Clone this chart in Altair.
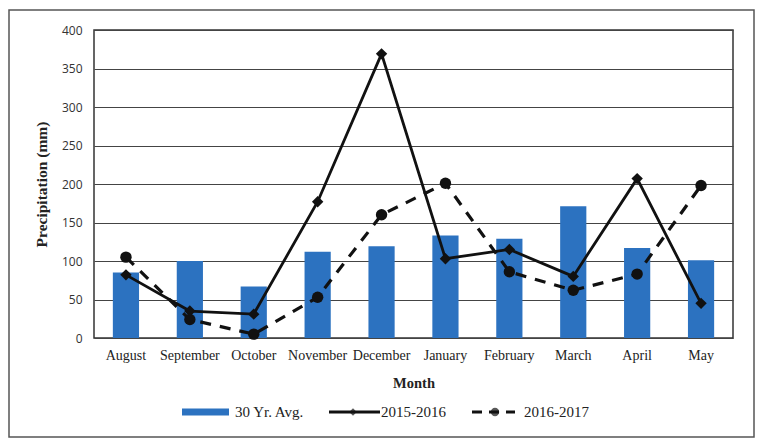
import altair as alt
import pandas as pd

months = ["August", "September", "October", "November", "December",
          "January", "February", "March", "April", "May"]
avg30 = [85, 100, 67, 112, 119, 133, 129, 171, 117, 101]
s2015 = [82, 35, 31, 177, 369, 103, 115, 80, 207, 45]
s2016 = [105, 24, 5, 53, 160, 201, 86, 62, 83, 198]
y_ticks = [0, 50, 100, 150, 200, 250, 300, 350, 400]

df = pd.DataFrame({"Month": months, "avg": avg30, "s2015": s2015, "s2016": s2016})

SERIF = "Liberation Serif"
W, H = 639, 308

x_scale = alt.Scale(paddingInner=0.59, paddingOuter=0.295)
x_axis = alt.Axis(title="Month", labelAngle=0, domain=False, ticks=False,
                  labelFont=SERIF, labelFontSize=14, labelColor="#222",
                  labelPadding=10, titleFont=SERIF, titleFontSize=14.5,
                  titleFontWeight="bold", titleColor="#222", titlePadding=14)
y_scale = alt.Scale(domain=[0, 400], nice=False)
y_axis = alt.Axis(title="Precipitation (mm)", values=y_ticks, tickCount=9, domain=False, ticks=False,
                  labelFont="Open Sans", labelFontSize=12, labelColor="#333",
                  labelPadding=12, grid=True, gridColor="#444", gridWidth=1,
                  labelOverlap=False,
                  titleFont=SERIF, titleFontSize=15.5, titleFontWeight="bold",
                  titleColor="#222", titlePadding=12)


def X():
    return alt.X("Month:N", sort=months, scale=x_scale, axis=x_axis)


def Y(field):
    return alt.Y(field, type="quantitative", scale=y_scale, axis=y_axis)


bars = alt.Chart(df).mark_bar(color="#2c72c0").encode(x=X(), y=Y("avg"))

line1 = alt.Chart(df).mark_line(color="#111", strokeWidth=2.8,
                                point=alt.OverlayMarkDef(shape="diamond", size=130, color="#111", filled=True)).encode(
    x=X(), y=Y("s2015"))
line2 = alt.Chart(df).mark_line(color="#111", strokeWidth=3.2, strokeDash=[11, 9],
                                point=alt.OverlayMarkDef(shape="circle", size=130, color="#111", filled=True)).encode(
    x=X(), y=Y("s2016"))

one = alt.Data(values=[{}])
frame = alt.Chart(one).mark_rect(fill=None, stroke="#555", strokeWidth=1.5).encode(
    x=alt.value(-85), x2=alt.value(660), y=alt.value(-20), y2=alt.value(407))

LY = 382
LFS = 15
leg_bar = alt.Chart(one).mark_rect(color="#2c72c0").encode(
    x=alt.value(88), x2=alt.value(135), y=alt.value(LY - 3.5), y2=alt.value(LY + 3.5))
leg_t1 = alt.Chart(one).mark_text(align="left", baseline="middle", font=SERIF, fontSize=LFS, color="#222").encode(
    x=alt.value(141), y=alt.value(LY), text=alt.value("30 Yr. Avg."))
leg_l1 = alt.Chart(one).mark_rule(color="#111", strokeWidth=2.8).encode(
    x=alt.value(235), x2=alt.value(286), y=alt.value(LY))
leg_p1 = alt.Chart(one).mark_point(shape="diamond", size=55, filled=True, color="#111").encode(
    x=alt.value(259), y=alt.value(LY))
leg_t2 = alt.Chart(one).mark_text(align="left", baseline="middle", font=SERIF, fontSize=LFS, color="#222").encode(
    x=alt.value(287), y=alt.value(LY), text=alt.value("2015-2016"))
leg_l2 = alt.Chart(one).mark_rule(color="#111", strokeWidth=3.2, strokeDash=[10, 7]).encode(
    x=alt.value(378), x2=alt.value(421), y=alt.value(LY))
leg_p2 = alt.Chart(one).mark_point(shape="circle", size=70, filled=True, color="#111").encode(
    x=alt.value(401), y=alt.value(LY))
leg_t3 = alt.Chart(one).mark_text(align="left", baseline="middle", font=SERIF, fontSize=LFS, color="#222").encode(
    x=alt.value(430), y=alt.value(LY), text=alt.value("2016-2017"))

chart = alt.layer(bars, line1, line2, frame, leg_bar, leg_t1, leg_l1, leg_p1,
                  leg_t2, leg_l2, leg_p2, leg_t3).properties(
    width=W, height=H,
    autosize=alt.AutoSizeParams(type="none"),
    padding={"left": 86, "top": 22, "right": 23, "bottom": 102},
    background="white",
).configure_view(stroke="#333", strokeWidth=1.5)

chart.save("out.html", embed_options={"renderer": "svg", "actions": False})
